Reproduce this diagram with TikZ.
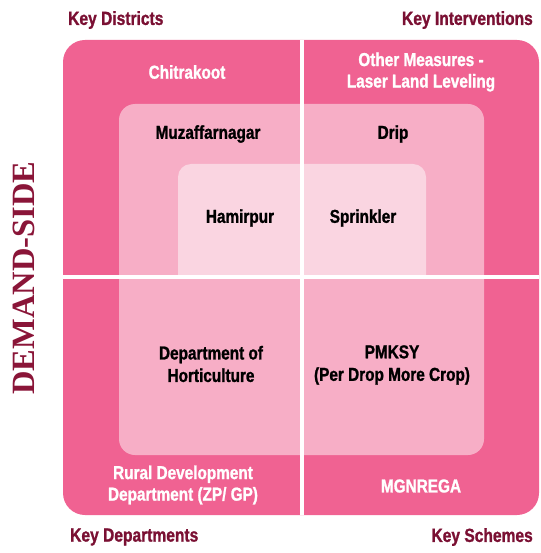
\documentclass[tikz,border=0pt]{standalone}
\usepackage{fontspec}
\setmainfont{Liberation Sans}
\newfontfamily\cnbold{Liberation Sans Bold}[FakeStretch=0.82,FakeBold=1.2]
\newfontfamily\demandfont{Liberation Serif}
\definecolor{outerpink}{HTML}{F06292}
\definecolor{midpink}{HTML}{F7AEC6}
\definecolor{lightpink}{HTML}{FAD5E1}
\definecolor{maroon}{HTML}{7A1033}
\definecolor{demandred}{HTML}{8A1538}
\begin{document}
\begin{tikzpicture}[x=1pt,y=-1pt,
  cornerlabel/.style={text=maroon,font=\cnbold\fontsize{19}{20}\selectfont,inner sep=0pt},
  whitetext/.style={text=white,font=\cnbold\fontsize{18.7}{21.5}\selectfont,align=center,inner sep=0pt},
  blacktext/.style={text=black,font=\cnbold\fontsize{18.7}{22.5}\selectfont,align=center,inner sep=0pt}]
\useasboundingbox (0,0) rectangle (540,553);
% shapes
\fill[outerpink,rounded corners=22] (63,40) rectangle (539,515);
\fill[midpink,rounded corners=16] (119,104) rectangle (484,455);
\fill[lightpink] (178,277) [rounded corners=13] -- (178,164) -- (426,164) [sharp corners] -- (426,277) -- cycle;
\draw[white,line width=3.2] (302,40) -- (302,515);
\draw[white,line width=3.2] (63,277) -- (539,277);
% corner labels
\node[cornerlabel,anchor=west] (kd) at (68,20) {Key Districts};
\node[cornerlabel,anchor=east] (ki) at (533,20) {Key Interventions};
\node[cornerlabel,anchor=west] (kdep) at (70,537) {Key Departments};
\node[cornerlabel,anchor=east] (ks) at (533,537) {Key Schemes};
% side label
\node[text=demandred,font=\demandfont\fontsize{32.5}{34}\selectfont\bfseries,rotate=90,inner sep=0pt] (ds) at (24,278) {DEMAND-SIDE};
% inner texts
\node[whitetext] (chit) at (187,72) {Chitrakoot};
\node[whitetext] (other) at (421,72) {Other Measures -\\Laser Land Leveling};
\node[blacktext] (muz) at (208,134) {Muzaffarnagar};
\node[blacktext] (drip) at (393,134) {Drip};
\node[blacktext] (ham) at (240,218) {Hamirpur};
\node[blacktext] (spr) at (363,218) {Sprinkler};
\node[blacktext] (hort) at (211,364) {Department of\\Horticulture};
\node[blacktext] (pmksy) at (392,365) {PMKSY\\(Per Drop More Crop)};
\node[whitetext] (rural) at (183,485) {Rural Development\\Department (ZP/ GP)};
\node[whitetext] (mgn) at (421,486) {MGNREGA};
\end{tikzpicture}
\end{document}
